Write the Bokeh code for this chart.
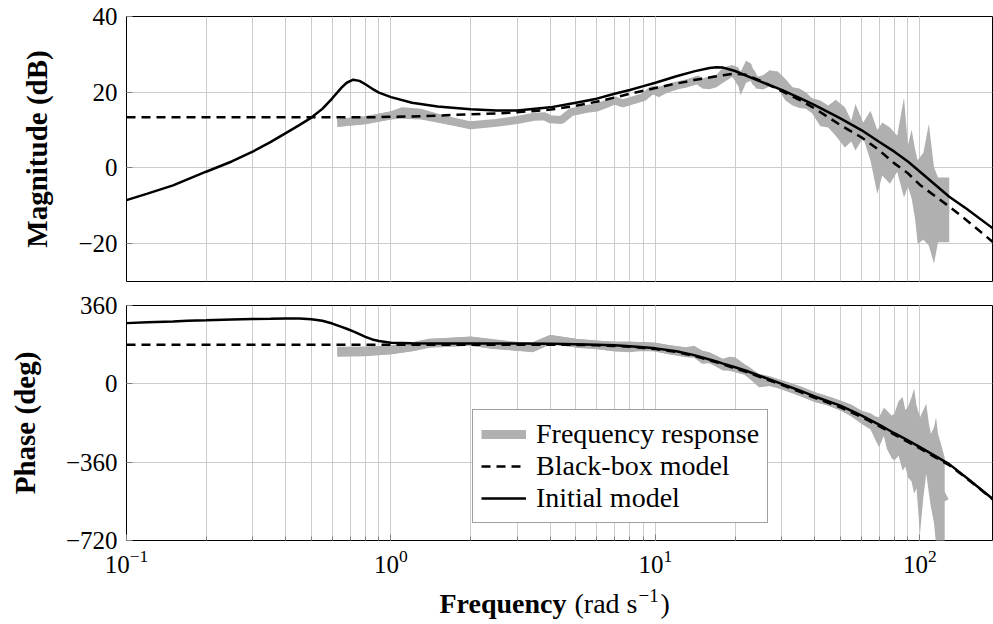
from bokeh.plotting import figure
from bokeh.layouts import column
from bokeh.models import (ColumnDataSource, FixedTicker, Legend, LegendItem, Label,
                          Range1d)
from bokeh.embed import file_html
from bokeh.resources import INLINE

# ---------------- data ----------------
freq_model = [0.1, 0.12, 0.15, 0.17, 0.2, 0.25, 0.3, 0.35, 0.4, 0.45, 0.5, 0.55,
              0.6, 0.65, 0.68, 0.72, 0.76, 0.8, 0.85, 0.9, 1.0, 1.2,
              1.5, 2, 2.5, 3, 4, 5, 6, 7, 8, 9,
              10, 12, 14, 16, 17, 18, 20, 22, 25, 30,
              35, 40, 50, 60, 70, 80, 90, 100, 129, 150,
              188]
mag_initial = [-8.5, -6.8, -4.6, -3.0, -1.0, 1.7, 4.3, 6.8, 9.2, 11.3, 13.3, 15.6,
               18.4, 21.2, 22.5, 23.3, 23.0, 22.1, 20.9, 19.9, 18.7, 17.2,
               16.2, 15.5, 15.2, 15.2, 16.0, 17.2, 18.3, 19.6, 20.6, 21.6,
               22.5, 24.2, 25.5, 26.4, 26.6, 26.5, 25.6, 24.4, 22.8, 20.6,
               18.5, 16.6, 13.1, 10.0, 6.9, 4.3, 1.7, -1.0, -7.6, -10.8,
               -15.9]
mag_blackbox = [13.4, 13.4, 13.4, 13.4, 13.4, 13.4, 13.4, 13.4, 13.4, 13.4, 13.4, 13.4,
                13.4, 13.4, 13.4, 13.4, 13.4, 13.4, 13.4, 13.4, 13.5, 13.6,
                13.8, 14.2, 14.4, 14.7, 15.4, 16.4, 17.5, 18.6, 19.6, 20.4,
                21.1, 22.3, 23.2, 23.9, 24.2, 24.5, 24.9, 24.6, 23.0, 20.3,
                18.0, 15.7, 11.3, 8.1, 4.7, 1.2, -1.4, -4.5, -10.2, -13.8,
                -19.5]
phase_initial = [279, 283, 287, 290, 292, 296, 298, 299, 300, 300, 297, 290,
                 277, 262, 253, 241, 228, 216, 204, 197, 189, 186,
                 185, 185, 185, 185, 184, 182, 180, 177, 173, 168,
                 163, 150, 132, 112, 103, 93, 76, 60, 35, 0,
                 -30, -58, -100, -145, -187, -227, -260, -291, -369, -432,
                 -528]
phase_blackbox = [180, 180, 180, 180, 180, 180, 180, 180, 180, 180, 180, 180,
                  180, 180, 180, 180, 180, 180, 180, 180, 180, 180,
                  180, 180, 180, 180, 180, 179, 177, 174, 170, 165,
                  160, 146, 128, 108, 99, 89, 71, 55, 30, -5,
                  -36, -64, -108, -152, -194, -233, -267, -297, -374, -434,
                  -530]

freq_resp_mag = [0.627, 0.8, 1.0, 1.1, 1.3, 1.6, 2.0, 2.5, 3.0, 3.5,
                 3.8, 4.0, 4.4, 4.8, 5.5, 6.0, 6.5, 7.0, 7.5, 8.0,
                 9.0, 9.7, 10.3, 11.0, 12.0, 13.0, 14.5, 15.0, 16.0, 17.0,
                 18.0, 19.5, 20.5, 21.0, 22.0, 23.0, 24.0, 25.5, 27.0, 29.0,
                 31.0, 33.0, 35.0, 37.0, 39.0, 42.0, 45.0, 48.0, 52.0, 55.0,
                 57.0, 61.0, 65.0, 69.0, 72.0, 77.0, 82.0, 87.0, 90.0, 93.0,
                 96.0, 98.0, 103.0, 108.0, 113.0, 117.0, 129.0]
mag_resp_low = [10.8, 11.6, 12.8, 13.0, 12.8, 11.6, 10.4, 11.0, 11.9, 12.8,
                12.9, 12.1, 11.9, 13.9, 14.8, 15.2, 16.0, 17.0, 16.3, 16.8,
                17.8, 19.6, 18.7, 19.8, 20.9, 21.3, 22.2, 21.0, 20.8, 21.3,
                22.5, 24.0, 22.0, 19.2, 22.5, 23.0, 21.0, 20.7, 21.5, 21.0,
                17.8, 16.5, 15.8, 15.6, 14.5, 11.0, 10.7, 8.5, 5.4, 7.0,
                4.6, 8.0, 1.9, -6.9, -2.0, -4.2, -1.0, -7.8, -5.0, -8.0,
                -13.9, -20.0, -19.0, -20.5, -25.3, -19.6, -19.6]
mag_resp_high = [13.0, 13.6, 15.0, 16.0, 15.6, 13.8, 12.1, 12.8, 13.4, 14.3,
                 14.4, 13.6, 13.4, 15.6, 16.4, 16.7, 17.8, 18.7, 17.8, 18.4,
                 19.6, 21.5, 21.5, 22.0, 22.6, 23.2, 24.4, 23.6, 24.2, 24.6,
                 26.5, 27.2, 26.6, 25.5, 28.3, 27.5, 24.0, 24.5, 25.8, 25.5,
                 23.5, 21.3, 21.0, 20.0, 18.5, 17.8, 16.5, 18.0, 16.0, 12.5,
                 16.9, 12.0, 15.1, 10.0, 12.0, 10.7, 8.5, 18.6, 6.0, 10.0,
                 4.6, 2.0, 4.0, 11.6, 0.2, -2.5, -2.5]

freq_resp_phase = [0.627, 0.8, 1.0, 1.2, 1.4, 2.0, 2.42, 3.0, 3.43, 4.0,
                   4.5, 5.0, 6.0, 7.0, 8.0, 9.0, 10.0, 11.0, 13.0, 14.0,
                   15.0, 16.0, 18.0, 19.0, 20.0, 22.0, 24.6, 27.0, 30.0, 35.0,
                   40.0, 45.0, 50.0, 55.0, 60.0, 65.0, 68.0, 70.0, 73.0, 75.0,
                   78.0, 80.0, 83.0, 86.0, 88.0, 90.0, 93.0, 95.0, 97.0, 100.0,
                   103.0, 105.6, 108.0, 110.0, 113.0, 115.0, 117.0, 120.0, 124.0]
phase_resp_low = [125, 127, 137, 150, 168, 175, 160, 153, 145, 183,
                  175, 168, 160, 149, 145, 153, 150, 138, 122, 120,
                  92, 95, 61, 60, 53, 40, -16, -10, -23, -55,
                  -84, -100, -122, -150, -183, -210, -260, -291, -240, -300,
                  -340, -352, -330, -400, -380, -429, -450, -505, -480, -689,
                  -520, -413, -500, -567, -640, -740, -740, -740, -740]
phase_resp_high = [171, 172, 175, 190, 206, 217, 206, 191, 191, 224,
                   215, 206, 198, 195, 195, 191, 188, 180, 168, 175,
                   153, 145, 115, 125, 122, 85, 46, 35, 15, -10,
                   -38, -58, -77, -95, -122, -135, -150, -153, -110, -122,
                   -145, -138, -80, -60, -120, -107, -60, -22, -100, -153,
                   -120, -92, -180, -230, -200, -153, -230, -275, -340]

mag_ticks = [-20, 0, 20, 40]
phase_ticks = [-720, -360, 0, 360]

# ---------------- styling ----------------
FONT = "Liberation Serif"
GRAY = "#b0b0b0"
GRID = "#cccccc"
W = 993
LEFT = 126
RIGHT = 1

x_range = Range1d(0.1, 188)


def style(p, ticks):
    p.outline_line_color = "black"
    p.outline_line_width = 1
    p.background_fill_color = "white"
    p.border_fill_color = "white"
    p.xgrid.grid_line_color = GRID
    p.xgrid.minor_grid_line_color = GRID
    p.ygrid.grid_line_color = GRID
    ft = FixedTicker(ticks=ticks, minor_ticks=[])
    p.yaxis.ticker = ft
    p.ygrid.ticker = ft
    p.yaxis.major_label_overrides = {t: str(t).replace("-", "\u2212") for t in ticks}
    for ax in p.axis:
        ax.axis_line_color = None
        ax.major_tick_in = 6
        ax.major_tick_out = 0
        ax.minor_tick_in = 4
        ax.minor_tick_out = 0
        ax.major_tick_line_color = "#808080"
        ax.minor_tick_line_color = "#808080"
        ax.major_label_text_font = FONT
        ax.major_label_text_font_size = "25px"
        ax.major_label_text_color = "black"
        ax.major_label_standoff = 9
        ax.axis_label_text_font = FONT
        ax.axis_label_text_font_size = "29px"
        ax.axis_label_text_font_style = "bold"
        ax.axis_label_text_color = "black"
        ax.axis_label_standoff = 22
    p.yaxis.minor_tick_line_color = None


# ---------------- magnitude ----------------
p1 = figure(width=W, height=293, x_axis_type="log", x_range=x_range,
            y_range=Range1d(-30, 40), output_backend="svg", toolbar_location=None,
            title=None, min_border_left=LEFT, min_border_right=RIGHT,
            min_border_top=16, min_border_bottom=12)
style(p1, mag_ticks)
p1.xaxis.visible = False
p1.yaxis.axis_label = "Magnitude (dB)"

src_mag_resp = ColumnDataSource(dict(
    f=freq_resp_mag, lo=mag_resp_low, hi=mag_resp_high,
    mid=[(a + b) / 2 for a, b in zip(mag_resp_low, mag_resp_high)]))
src_model = ColumnDataSource(dict(f=freq_model, mi=mag_initial, mb=mag_blackbox,
                                  pi=phase_initial, pb=phase_blackbox))

p1.varea(x="f", y1="lo", y2="hi", source=src_mag_resp, fill_color=GRAY)
p1.line(x="f", y="mid", source=src_mag_resp, line_color=GRAY, line_width=8)
p1.line(x="f", y="mb", source=src_model, line_color="black", line_width=2.5,
        line_dash="9 6")
p1.line(x="f", y="mi", source=src_model, line_color="black", line_width=2.5)

# ---------------- phase ----------------
p2 = figure(width=W, height=291, x_axis_type="log", x_range=x_range,
            y_range=Range1d(-720, 360), output_backend="svg", toolbar_location=None,
            title=None, min_border_left=LEFT, min_border_right=RIGHT,
            min_border_top=12, min_border_bottom=44)
style(p2, phase_ticks)
p2.yaxis.axis_label = "Phase (deg)"

src_ph_resp = ColumnDataSource(dict(
    f=freq_resp_phase, lo=phase_resp_low, hi=phase_resp_high,
    mid=[(a + b) / 2 for a, b in zip(phase_resp_low, phase_resp_high)]))

p2.varea(x="f", y1="lo", y2="hi", source=src_ph_resp, fill_color=GRAY)
r_resp = p2.line(x="f", y="mid", source=src_ph_resp, line_color=GRAY, line_width=9)
r_bb = p2.line(x="f", y="pb", source=src_model, line_color="black", line_width=2.5,
               line_dash="9 6")
r_init = p2.line(x="f", y="pi", source=src_model, line_color="black", line_width=2.5)

legend = Legend(items=[LegendItem(label="Frequency response", renderers=[r_resp]),
                       LegendItem(label="Black-box model", renderers=[r_bb]),
                       LegendItem(label="Initial model", renderers=[r_init])],
                location=(346, 17), glyph_width=45, glyph_height=20,
                label_standoff=10, padding=8, spacing=0, margin=0,
                border_line_color="#404040", border_line_width=1,
                background_fill_color="white", background_fill_alpha=1,
                label_text_font=FONT, label_text_font_size="28px",
                label_text_color="black")
p2.add_layout(legend)

# ---------------- x-axis title strip (data units = canvas pixels) ----------------
p3 = figure(width=W, height=40, x_range=Range1d(LEFT, W - RIGHT), y_range=Range1d(0, 40),
            output_backend="svg", toolbar_location=None, title=None,
            min_border_left=LEFT, min_border_right=RIGHT,
            min_border_top=0, min_border_bottom=0)
p3.axis.visible = False
p3.grid.visible = False
p3.outline_line_color = None
p3.background_fill_color = "white"
p3.border_fill_color = "white"
p3.add_layout(Label(x=566, y=21, text="Frequency", text_font=FONT,
                    text_font_size="28px", text_font_style="bold",
                    text_align="right", text_baseline="middle", text_color="black"))
p3.add_layout(Label(x=574, y=21, text="(rad s", text_font=FONT,
                    text_font_size="28px", text_align="left",
                    text_baseline="middle", text_color="black"))
p3.add_layout(Label(x=638, y=29, text="\u22121", text_font=FONT,
                    text_font_size="19px", text_align="left",
                    text_baseline="middle", text_color="black"))
p3.add_layout(Label(x=660, y=21, text=")", text_font=FONT,
                    text_font_size="28px", text_align="left",
                    text_baseline="middle", text_color="black"))

layout = column(p1, p2, p3, spacing=0)
open("out.html", "w").write(file_html(layout, INLINE))
